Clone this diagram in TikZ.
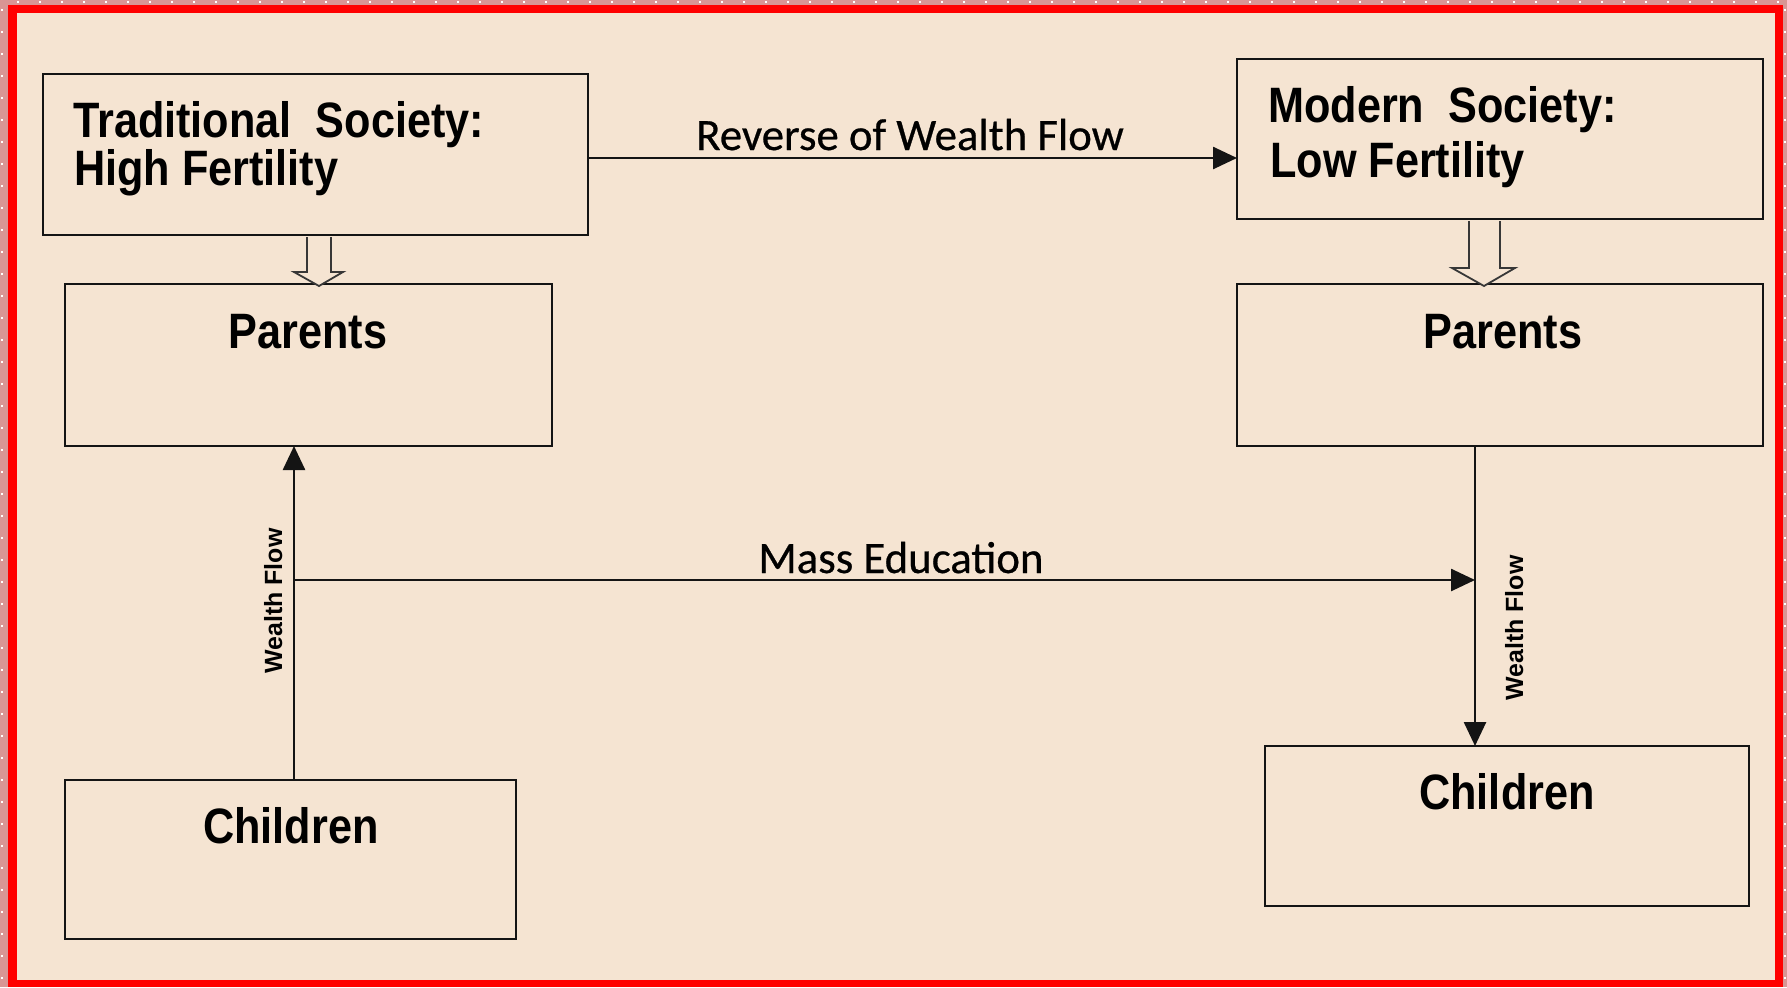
\documentclass[tikz,border=0pt]{standalone}
\usepackage{fontspec}
\usepackage{graphicx}
\setmainfont{Liberation Sans}
\newfontfamily\calfont[FakeBold=0.6]{Carlito}
\usetikzlibrary{arrows.meta}
\definecolor{bg}{HTML}{F5E4D2}
\definecolor{pinkm}{HTML}{D99594}
\definecolor{frame}{HTML}{FF0000}
\definecolor{ink}{HTML}{141414}
\newcommand{\vstr}[1]{\scalebox{1}[1.15]{#1}}
\begin{document}
\begin{tikzpicture}[x=1bp,y=-1bp,
  box/.style={draw=ink, line width=2.6bp, inner sep=0pt, outer sep=0pt, anchor=north west},
  btext/.style={inner sep=0pt, font=\fontsize{43.4}{50}\selectfont\bfseries, text=black},
  lab/.style={inner sep=0pt, font=\calfont\fontsize{45}{54}\selectfont, text=black},
  wf/.style={inner sep=0pt, font=\fontsize{25}{30}\selectfont\bfseries, text=black, rotate=90, anchor=base},
  arr/.style={draw=ink, line width=2.6bp, -{Triangle[length=24bp,width=22bp]}},
  hollow/.style={draw=ink!85, line width=1.8bp, fill=bg, line join=miter}]
\useasboundingbox (0,0) rectangle (1787,987);
% outer margin, frame and background
\fill[pinkm] (0,0) rectangle (1787,987);
\foreach \x in {18,40,...,1787} \fill[white] (\x-1,1) rectangle (\x+1,3);
\foreach \y in {10,32,...,987} {\fill[white] (1,\y-1) rectangle (3,\y+1); \fill[white] (1784,\y-1) rectangle (1786,\y+1);}
\fill[frame] (8,5) rectangle (1783,987);
\fill[bg] (17,13) rectangle (1775,980);
% boxes
\node[box, minimum width=545bp, minimum height=161bp] (trad) at (43,74) {};
\node[box, minimum width=526bp, minimum height=160bp] (mod) at (1237,59) {};
\node[box, minimum width=487bp, minimum height=162bp] (parL) at (65,284) {};
\node[box, minimum width=526bp, minimum height=162bp] (parR) at (1237,284) {};
\node[box, minimum width=451bp, minimum height=159bp] (chL) at (65,780) {};
\node[box, minimum width=484bp, minimum height=160bp] (chR) at (1265,746) {};
% box texts
\node[btext, anchor=base west] (tradA) at (73,137) {\vstr{Traditional~ Society:}};
\node[btext, anchor=base west] (tradB) at (74,185) {\vstr{High Fertility}};
\node[btext, anchor=base west] (modA) at (1268,122) {\vstr{Modern~ Society:}};
\node[btext, anchor=base west] (modB) at (1270,177) {\vstr{Low Fertility}};
\node[btext, anchor=base] (parLt) at (308,348) {\vstr{Parents}};
\node[btext, anchor=base] (parRt) at (1503,348) {\vstr{Parents}};
\node[btext, anchor=base] (chLt) at (291,843) {\vstr{Children}};
\node[btext, anchor=base] (chRt) at (1507,809) {\vstr{Children}};
% hollow block arrows
\draw[hollow] (307,237) -- (307,272) -- (294,272) -- (319,286) -- (343,272) -- (331,272) -- (331,237);
\draw[hollow] (1469,221) -- (1469,268) -- (1452,268) -- (1484,286) -- (1515,268) -- (1500,268) -- (1500,221);
% connector helper coordinates
\coordinate (rev) at (0,158);
\coordinate (me) at (0,580);
\coordinate (lvx) at (294,0);
\coordinate (rvx) at (1475,0);
% connectors
\draw[arr] (trad.east |- rev) -- (mod.west |- rev);
\draw[arr] (lvx |- chL.north) -- (lvx |- parL.south);
\draw[arr] (rvx |- parR.south) -- (rvx |- chR.north);
\draw[arr] (lvx |- me) -- (rvx |- me);
% labels
\node[lab, anchor=base] (revlab) at (910,150) {Reverse of Wealth Flow};
\node[lab, anchor=base] (melab) at (901,573) {Mass Education};
\node[wf] (wfL) at (282,601) {Wealth Flow};
\node[wf] (wfR) at (1523,628) {Wealth Flow};
\end{tikzpicture}
\end{document}
